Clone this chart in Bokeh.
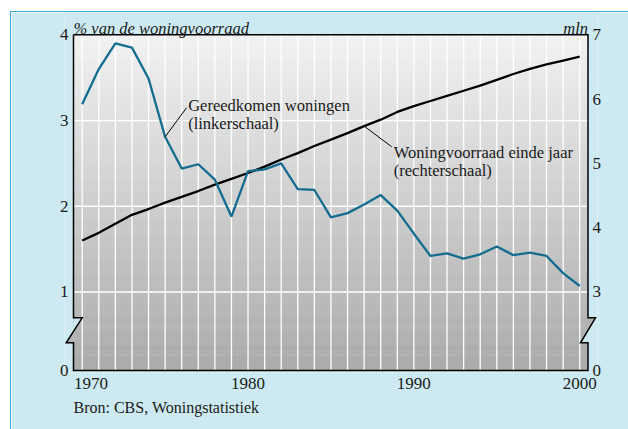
import numpy as np
from bokeh.plotting import figure
from bokeh.models import Range1d, LinearAxis, FixedTicker, Title
from bokeh.core.properties import value
from bokeh.embed import file_html
from bokeh.resources import INLINE

# ---------------- data ----------------
years = list(range(1970, 2001))
# Gereedkomen woningen, % van de woningvoorraad (linkerschaal)
completions = [3.19, 3.60, 3.90, 3.85, 3.49, 2.81, 2.44, 2.49, 2.31, 1.88,
               2.41, 2.43, 2.50, 2.20, 2.19, 1.87, 1.92, 2.02, 2.13, 1.95,
               1.68, 1.42, 1.45, 1.39, 1.44, 1.53, 1.43, 1.46, 1.42, 1.22, 1.07]
# Woningvoorraad einde jaar, mln (rechterschaal)
stock = [3.80, 3.92, 4.06, 4.20, 4.29, 4.39, 4.48, 4.57, 4.67, 4.76,
         4.85, 4.95, 5.06, 5.16, 5.27, 5.37, 5.47, 5.58, 5.68, 5.80,
         5.89, 5.97, 6.05, 6.13, 6.21, 6.30, 6.39, 6.47, 6.54, 6.60, 6.66]

x_ticks = [1970, 1980, 1990, 2000]
x_tick_labels = ["1970", "1980", "1990", "2000"]
left_tick_labels = ["0", "1", "2", "3", "4"]
right_tick_labels = ["0", "3", "4", "5", "6", "7"]
left_grid_values = [1, 2, 3]

title_left = "% van de woningvoorraad"
title_right = "mln"
label_completions = ["Gereedkomen woningen", "(linkerschaal)"]
label_stock = ["Woningvoorraad einde jaar", "(rechterschaal)"]
source_text = "Bron: CBS, Woningstatistiek"

# ---------------- geometry / style ----------------
BLUE_BG = "#cdeaf2"
BLUE_BORDER = "#3ba9d6"
LINE_BLUE = "#146d8f"
TEXT_COL = "#1a1a1a"
FONT = "Liberation Serif"

X0, X1 = 1969.475, 2000.50          # plot box edges
Y0, Y1 = 0.0843, 4.0                # broken axis: bottom edge shows "0"
BRK_HI, BRK_LO = 0.699, 0.407       # zigzag break heights
FIRST_LABEL_SHIFT = 0.53            # first year label nudged right of the corner


def to_right(v):
    return 3 + (v - 1) * 4.0 / 3.0


y_lo, y_hi = 0.061, 4.260
p = figure(width=617, height=417,
           x_range=Range1d(1968.933, 2001.073),
           y_range=Range1d(y_lo, y_hi),
           x_axis_type=None, y_axis_type=None,
           output_backend="svg", toolbar_location=None,
           min_border_left=53, min_border_right=31,
           min_border_top=0, min_border_bottom=57,
           styles={"position": "absolute", "left": "11px", "top": "12px",
                   "outline": f"1px solid {BLUE_BORDER}"})
p.extra_y_ranges = {"right": Range1d(to_right(y_lo), to_right(y_hi))}
p.background_fill_color = BLUE_BG
p.border_fill_color = BLUE_BG
p.outline_line_color = None

# gradient background of the plot box
N = 180
edges = np.linspace(Y0, Y1, N + 1)
shade = np.linspace(170, 243, N)
cols = ["#%02x%02x%02x" % (int(s), int(s), int(s)) for s in shade]
p.quad(left=X0, right=X1, bottom=edges[:-1], top=edges[1:] + 0.004,
       fill_color=cols, line_color=None)

# grid
p.segment(x0=years, y0=Y0, x1=years, y1=Y1, line_color="white", line_width=1.3)
p.segment(x0=X0, y0=left_grid_values, x1=X1, y1=left_grid_values,
          line_color="white", line_width=1.3)

# zigzag break shapes
lx_top, lx_bot = 1970.0, 1969.035
rx_top, rx_bot = 2000.95, 2000.05
tl = (lx_top - X0) / (lx_top - lx_bot)
yl = BRK_HI - tl * (BRK_HI - BRK_LO)
tr = (rx_top - X1) / (rx_top - rx_bot)
yr = BRK_HI - tr * (BRK_HI - BRK_LO)
GREY_BRK = "#b3b3b3"
p.patch([X0, lx_top, X0], [BRK_HI, BRK_HI, yl], fill_color=BLUE_BG, line_color=None)
p.patch([X0, lx_bot, X0], [yl, BRK_LO, BRK_LO], fill_color=GREY_BRK, line_color=None)
p.patch([X1, rx_top, X1], [BRK_HI, BRK_HI, yr], fill_color=GREY_BRK, line_color=None)
p.patch([X1, rx_bot, X1], [yr, BRK_LO, BRK_LO], fill_color=BLUE_BG, line_color=None)

# outline with breaks
ox = [X0, X1, X1, rx_top, rx_bot, X1, X1, X0, X0, lx_bot, lx_top, X0, X0]
oy = [Y1, Y1, BRK_HI, BRK_HI, BRK_LO, BRK_LO, Y0, Y0, BRK_LO, BRK_LO, BRK_HI, BRK_HI, Y1]
p.line(ox, oy, line_color="black", line_width=1.5, line_join="miter")

# series
p.line(years, stock, y_range_name="right", line_color="black", line_width=2.3)
p.line(years, completions, line_color=LINE_BLUE, line_width=2.3)

# leader lines
p.segment(x0=[1975.0], y0=[completions[5]], x1=[1976.29], y1=[3.148],
          line_color="black", line_width=1)
p.segment(x0=[1987.0], y0=[stock[17]], x1=[1988.66], y1=[to_right(2.694)],
          y_range_name="right", line_color="black", line_width=1)

TXT = dict(text_font=value(FONT), text_font_size=value("16.5px"),
           text_color=TEXT_COL, text_baseline="alphabetic")
p.text(x=[1976.39, 1976.39], y=[3.175, 2.965], text=label_completions, **TXT)
p.text(x=[1988.79, 1988.79], y=[2.624, 2.414], text=label_stock, **TXT)

# top texts
p.text(x=[X0], y=[4.068], text=[title_left], text_font_style="italic", **TXT)
p.text(x=[X1], y=[4.068], text=[title_right], text_font_style="italic",
       text_align="right", **TXT)

AX = dict(axis_line_color=None, major_tick_line_color=None,
          minor_tick_line_color=None, major_tick_out=0, major_tick_in=0,
          minor_tick_out=0, minor_tick_in=0,
          major_label_text_font=FONT,
          major_label_text_font_size="17px", major_label_text_color=TEXT_COL)

left_ticks = [Y0, 1, 2, 3, 4]
left_axis = LinearAxis(ticker=FixedTicker(ticks=left_ticks),
                       major_label_overrides=dict(zip(left_ticks, left_tick_labels)),
                       major_label_standoff=-4, **AX)
p.add_layout(left_axis, "left")

right_ticks = [to_right(Y0), 3, 4, 5, 6, 7]
right_axis = LinearAxis(y_range_name="right", ticker=FixedTicker(ticks=right_ticks),
                        major_label_overrides=dict(zip(right_ticks, right_tick_labels)),
                        major_label_standoff=-5, **AX)
p.add_layout(right_axis, "right")

x_tick_pos = [x_ticks[0] + FIRST_LABEL_SHIFT] + x_ticks[1:]
x_axis = LinearAxis(ticker=FixedTicker(ticks=x_tick_pos),
                    major_label_overrides=dict(zip(x_tick_pos, x_tick_labels)),
                    major_label_standoff=5, **AX)
p.add_layout(x_axis, "below")

src = Title(text=source_text, align="left", offset=9, standoff=10,
            text_font=FONT, text_font_size="16px", text_font_style="normal",
            text_color=TEXT_COL)
p.add_layout(src, "below")

open("out.html", "w").write(file_html(p, INLINE))
